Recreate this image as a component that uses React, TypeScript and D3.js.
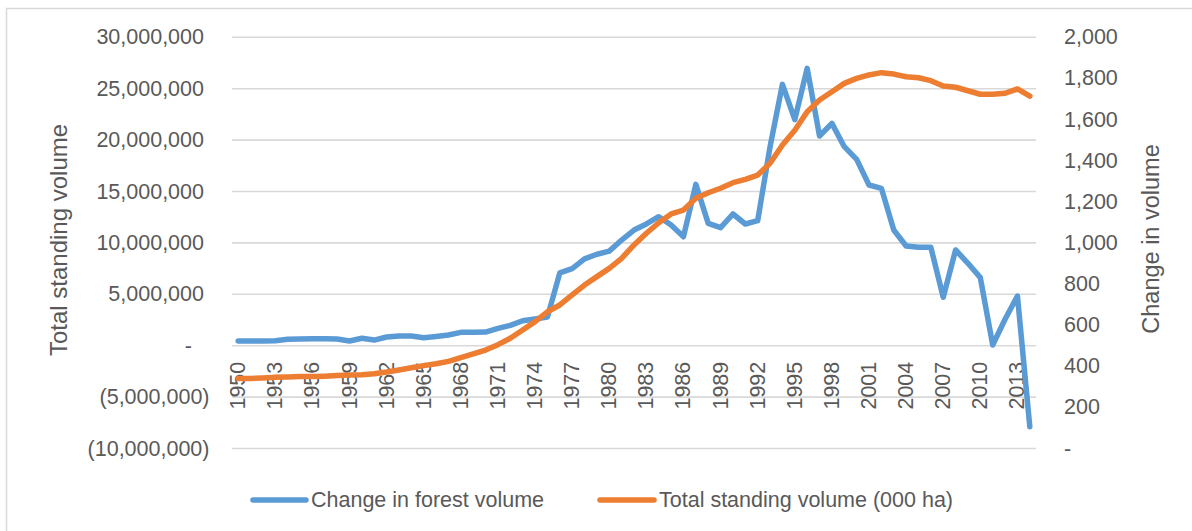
import React from "react";
import * as d3 from "d3";

const years: number[] = d3.range(1950, 2015);

const changeInForestVolume: number[] = [
  460000, 460000, 460000, 480000, 620000, 650000, 680000, 680000, 650000, 460000,
  720000, 550000, 850000, 940000, 940000, 780000, 900000, 1040000, 1300000, 1300000,
  1330000, 1690000, 1980000, 2430000, 2600000, 2780000, 7080000, 7500000, 8450000, 8900000,
  9200000, 10280000, 11250000, 11840000, 12550000, 11740000, 10600000, 15700000, 11900000, 11480000,
  12810000, 11840000, 12160000, 19360000, 25420000, 22000000, 26980000, 20400000, 21630000, 19360000,
  18130000, 15630000, 15310000, 11250000, 9700000, 9570000, 9570000, 4710000, 9310000, 8020000,
  6620000, 70000, 2570000, 4830000, -7880000,
];

const totalStandingVolume: number[] = [
  341, 341, 343, 346, 348, 350, 350, 352, 355, 358,
  359, 364, 372, 382, 393, 403, 412, 424, 442, 460,
  479, 505, 536, 576, 617, 665, 698, 747, 795, 836,
  876, 925, 990, 1047, 1098, 1141, 1160, 1217, 1244, 1266,
  1293, 1309, 1330, 1387, 1476, 1548, 1638, 1695, 1735, 1776,
  1800, 1817, 1828, 1821, 1808, 1803, 1789, 1763, 1757, 1740,
  1723, 1723, 1728, 1749, 1714,
];

const leftTicks: number[] = [-10000000, -5000000, 0, 5000000, 10000000, 15000000, 20000000, 25000000, 30000000];
const rightTicks: number[] = [0, 200, 400, 600, 800, 1000, 1200, 1400, 1600, 1800, 2000];
const xTickYears: number[] = years.filter((y) => (y - 1950) % 3 === 0);

const seriesNames = ["Change in forest volume", "Total standing volume (000 ha)"];
const leftTitle = "Total standing volume";
const rightTitle = "Change in volume";

const BLUE = "#5B9BD5";
const ORANGE = "#ED7D31";
const TEXT = "#595959";
const GRID = "#D9D9D9";
const FONT = "'Liberation Sans', Arial, sans-serif";

export default function App() {
  const W = 1192;
  const H = 531;
  const x = d3.scaleBand<number>().domain(years).range([232, 1036]).paddingInner(0).paddingOuter(0);
  const yL = d3.scaleLinear().domain([-10000000, 30000000]).range([448.5, 37.3]);
  const yR = d3.scaleLinear().domain([0, 2000]).range([448.5, 37.3]);
  const cx = (yr: number) => (x(yr) as number) + x.bandwidth() / 2;

  const blueLine = d3
    .line<number>()
    .x((_, i) => cx(years[i]))
    .y((d) => yL(d))(changeInForestVolume) as string;
  const orangeLine = d3
    .line<number>()
    .x((_, i) => cx(years[i]))
    .y((d) => yR(d))(totalStandingVolume) as string;

  const fmt = d3.format(",");
  const leftLabel = (v: number) => (v === 0 ? "-" : v < 0 ? `(${fmt(-v)})` : fmt(v));
  const leftX = (v: number) => (v === 0 ? 192 : v < 0 ? 209.5 : 204);
  const rightLabel = (v: number) => (v === 0 ? "-" : fmt(v));

  return (
    <svg
      width={W}
      height={H}
      style={{ position: "absolute", left: 0, top: 0, background: "#fff" }}
      fontFamily={FONT}
    >
      <rect x={0} y={0} width={W} height={H} fill="#fff" />
      <rect x={6.5} y={8.5} width={W + 20} height={H + 20} fill="none" stroke={GRID} strokeWidth={1.5} />

      {leftTicks.map((t) => (
        <line key={"g" + t} x1={232} x2={1036} y1={yL(t)} y2={yL(t)} stroke={GRID} strokeWidth={1.6} />
      ))}

      {leftTicks.map((t) => (
        <text
          key={"l" + t}
          x={leftX(t)}
          y={yL(t)}
          textAnchor="end"
          dominantBaseline="central"
          fontSize={21.5}
          fill={TEXT}
        >
          {leftLabel(t)}
        </text>
      ))}

      {rightTicks.map((t) => (
        <text
          key={"r" + t}
          x={1064}
          y={yR(t)}
          textAnchor="start"
          dominantBaseline="central"
          fontSize={21.5}
          fill={TEXT}
        >
          {rightLabel(t)}
        </text>
      ))}

      {xTickYears.map((yr) => (
        <text
          key={"x" + yr}
          transform={`translate(${cx(yr)},${yL(0) + 16}) rotate(-90)`}
          textAnchor="end"
          dominantBaseline="central"
          fontSize={21.5}
          fill={TEXT}
        >
          {yr}
        </text>
      ))}

      <text
        transform={`translate(58,240) rotate(-90)`}
        textAnchor="middle"
        dominantBaseline="central"
        fontSize={24}
        fill={TEXT}
      >
        {leftTitle}
      </text>
      <text
        transform={`translate(1151,239) rotate(-90)`}
        textAnchor="middle"
        dominantBaseline="central"
        fontSize={23.5}
        fill={TEXT}
      >
        {rightTitle}
      </text>

      <path d={blueLine} fill="none" stroke={BLUE} strokeWidth={5.5} strokeLinejoin="round" strokeLinecap="round" />
      <path d={orangeLine} fill="none" stroke={ORANGE} strokeWidth={5.5} strokeLinejoin="round" strokeLinecap="round" />

      <line x1={253} x2={306} y1={500} y2={500} stroke={BLUE} strokeWidth={5.5} strokeLinecap="round" />
      <text x={311} y={500} dominantBaseline="central" fontSize={21.5} fill={TEXT}>
        {seriesNames[0]}
      </text>
      <line x1={600} x2={654} y1={500} y2={500} stroke={ORANGE} strokeWidth={5.5} strokeLinecap="round" />
      <text x={659} y={500} dominantBaseline="central" fontSize={21.5} fill={TEXT}>
        {seriesNames[1]}
      </text>
    </svg>
  );
}
